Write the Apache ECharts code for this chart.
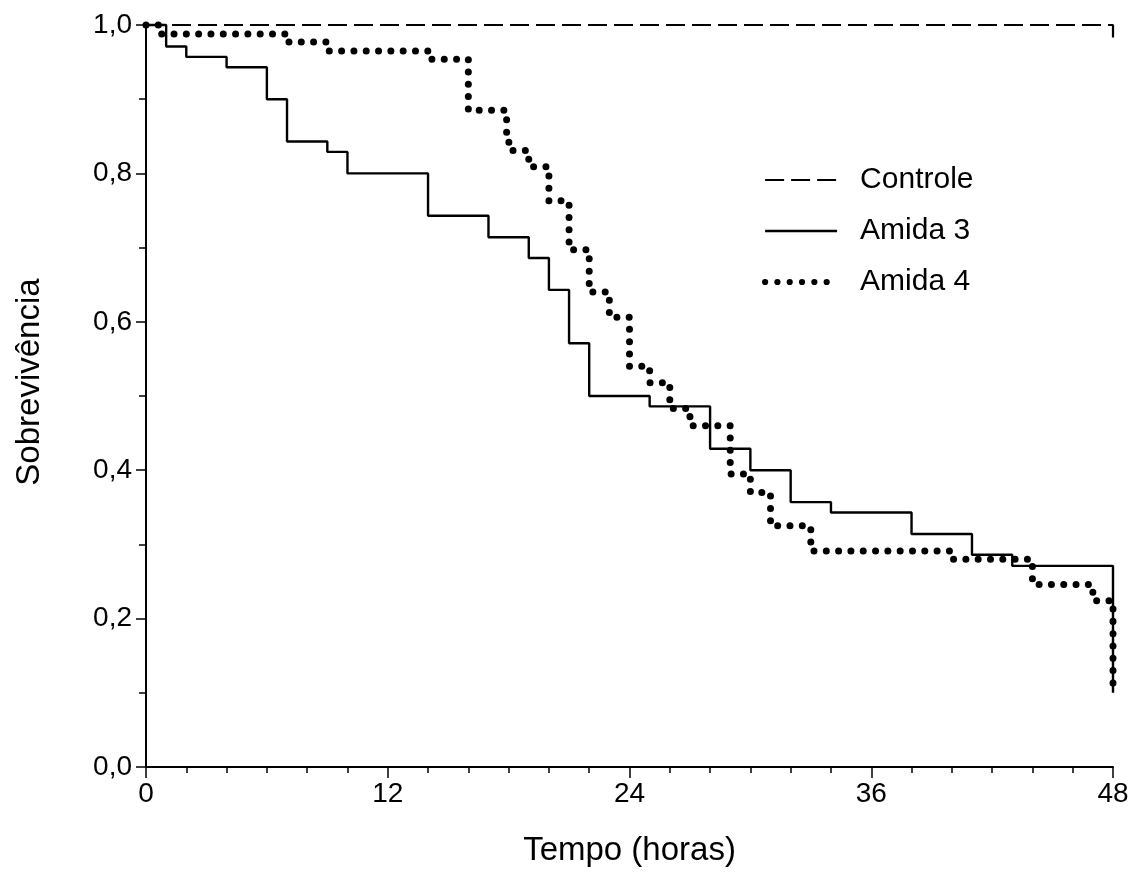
<!DOCTYPE html>
<html>
<head>
<meta charset="utf-8">
<script src="https://cdn.jsdelivr.net/npm/echarts@6/dist/echarts.min.js"></script>
<style>
  html, body { margin: 0; padding: 0; background: #fff; }
  #chart { width: 1146px; height: 895px; }
</style>
</head>
<body>
<div id="chart"></div>
<script>
  // Kaplan-Meier curves (time in hours, survival after each drop)
  const controleTimes = [0, 48];
  const controleValues = [1.0, 0.983];

  const amida3Times = [0, 1, 2, 4, 6, 7, 9, 10, 14, 17, 19, 20, 21, 22, 25, 28, 30, 32, 34, 38, 41, 43, 48];
  const amida3Values = [1.0, 0.971, 0.957, 0.943, 0.900, 0.843, 0.829, 0.800, 0.743, 0.714, 0.686, 0.643, 0.571, 0.500,
    0.486, 0.429, 0.400, 0.357, 0.343, 0.314, 0.286, 0.271, 0.100];

  const amida4Times = [0, 0.7, 7, 9, 14, 16, 17.9, 18.1, 19, 20, 21, 22, 23, 24, 25, 26, 27, 29, 30, 31, 33, 40, 44, 47, 48];
  const amida4Values = [1.0, 0.988, 0.977, 0.965, 0.954, 0.885, 0.842, 0.831, 0.809, 0.763, 0.697, 0.640, 0.606, 0.540,
    0.518, 0.483, 0.460, 0.395, 0.370, 0.325, 0.291, 0.280, 0.246, 0.224, 0.100];

  const seriesNames = ['Controle', 'Amida 3', 'Amida 4'];
  const xTicks = { min: 0, max: 48, interval: 12 };
  const yTicks = { min: 0, max: 1, interval: 0.2 };

  const pairs = (xs, ys) => xs.map((x, i) => [x, ys[i]]);
  const font = 'Liberation Sans, Arial, sans-serif';

  const dashedStyle = { color: '#000', width: 2.2, type: [19, 7] };
  const solidStyle = { color: '#000', width: 2.4, type: 'solid' };
  const dottedStyle = { color: '#000', width: 6.2, type: [0.01, 12.3], cap: 'round' };

  const chart = echarts.init(document.getElementById('chart'));

  const axisCommon = {
    axisLine: { show: true, lineStyle: { color: '#000', width: 2 } },
    splitLine: { show: false },
    axisLabel: { color: '#000', fontFamily: font, fontSize: 28 },
    nameTextStyle: { color: '#000', fontFamily: font, fontSize: 33 },
    nameLocation: 'middle',
  };

  const noSymbol = { opacity: 0, color: 'transparent', borderWidth: 0 };

  const option = {
    animation: false,
    backgroundColor: '#fff',
    grid: { left: 146, right: 33, top: 25, bottom: 128 },
    legend: {
      orient: 'vertical',
      left: 762,
      top: 165,
      padding: 0,
      itemWidth: 72,
      itemHeight: 30,
      itemGap: 21,
      itemStyle: noSymbol,
      data: [
        { name: seriesNames[0], itemStyle: noSymbol, lineStyle: dashedStyle },
        { name: seriesNames[1], itemStyle: noSymbol, lineStyle: solidStyle },
        { name: seriesNames[2], itemStyle: noSymbol, lineStyle: dottedStyle },
      ],
      textStyle: { color: '#000', fontFamily: font, fontSize: 30, lineHeight: 30, padding: [0, 0, 0, 18] },
    },
    xAxis: Object.assign({}, axisCommon, {
      type: 'value',
      min: xTicks.min,
      max: xTicks.max,
      interval: xTicks.interval,
      name: 'Tempo (horas)',
      nameGap: 67,
      axisTick: { show: true, length: 11, lineStyle: { color: '#000', width: 1.5 } },
      minorTick: { show: true, splitNumber: 6, length: 6, lineStyle: { color: '#000', width: 1.5 } },
      axisLabel: Object.assign({}, axisCommon.axisLabel, { margin: 13 }),
    }),
    yAxis: Object.assign({}, axisCommon, {
      type: 'value',
      min: yTicks.min,
      max: yTicks.max,
      interval: yTicks.interval,
      name: 'Sobrevivência',
      nameGap: 100,
      nameTextStyle: Object.assign({}, axisCommon.nameTextStyle, { padding: [0, 0, 0, 28] }),
      axisTick: { show: true, length: 10, lineStyle: { color: '#000', width: 1.5 } },
      minorTick: { show: true, splitNumber: 2, length: 7, lineStyle: { color: '#000', width: 1.5 } },
      axisLabel: Object.assign({}, axisCommon.axisLabel, {
        margin: 14,
        formatter: (v) => v.toFixed(1).replace('.', ','),
      }),
    }),
    series: [
      {
        name: 'Controle',
        type: 'line',
        step: 'end',
        symbol: 'none',
        clip: false,
        color: '#000',
        lineStyle: dashedStyle,
        data: pairs(controleTimes, controleValues),
      },
      {
        name: 'Amida 3',
        type: 'line',
        step: 'end',
        symbol: 'none',
        clip: false,
        color: '#000',
        lineStyle: solidStyle,
        data: pairs(amida3Times, amida3Values),
      },
      {
        name: 'Amida 4',
        type: 'line',
        step: 'end',
        symbol: 'none',
        clip: false,
        color: '#000',
        lineStyle: Object.assign({}, dottedStyle, { width: 7 }),
        data: pairs(amida4Times, amida4Values),
      },
    ],
  };

  chart.setOption(option);
</script>
</body>
</html>
